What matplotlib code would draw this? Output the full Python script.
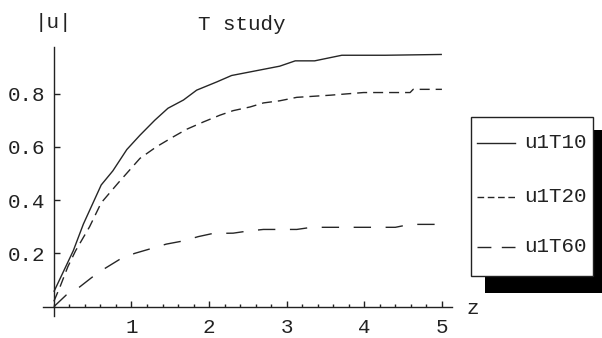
import matplotlib
matplotlib.use("Agg")
import matplotlib.pyplot as plt
from matplotlib.patches import Rectangle
from matplotlib.lines import Line2D
from matplotlib.ticker import MultipleLocator, FixedLocator

plt.rcParams['lines.scale_dashes'] = False
FONT = 'Liberation Mono'
FS = 15

# ---- data ----
x_T10 = [0, 0.25, 0.38, 0.61, 0.76, 0.94, 1.11, 1.30, 1.47, 1.67, 1.84, 2.10, 2.29, 2.91, 3.11, 3.36, 3.71, 4.27, 5.0]
u_T10 = [0.056, 0.21, 0.31, 0.457, 0.51, 0.59, 0.644, 0.70, 0.745, 0.776, 0.813, 0.844, 0.868, 0.903, 0.923, 0.923, 0.944, 0.944, 0.947]

x_T20 = [0, 0.08, 0.18, 0.28, 0.46, 0.61, 0.83, 1.11, 1.32, 1.54, 1.71, 1.93, 2.14, 2.31, 2.53, 2.70, 2.91, 3.13, 3.56, 3.99, 4.59, 4.63, 5.0]
u_T20 = [0.02, 0.075, 0.15, 0.21, 0.30, 0.39, 0.465, 0.557, 0.60, 0.638, 0.666, 0.694, 0.719, 0.736, 0.75, 0.765, 0.773, 0.786, 0.794, 0.804, 0.804, 0.816, 0.816]

x_T60 = [0, 0.16, 0.31, 0.49, 0.66, 0.85, 1.04, 1.24, 1.45, 1.67, 1.86, 2.05, 2.31, 2.50, 2.70, 3.13, 3.32, 4.18, 4.40, 4.59, 5.0]
u_T60 = [0, 0.044, 0.069, 0.11, 0.144, 0.178, 0.20, 0.217, 0.235, 0.247, 0.263, 0.275, 0.276, 0.284, 0.29, 0.29, 0.298, 0.298, 0.298, 0.309, 0.309]

labels = ['u1T10', 'u1T20', 'u1T60']
x_ticks = [1, 2, 3, 4, 5]
y_ticks = [0.2, 0.4, 0.6, 0.8]

W, H = 602, 338
fig = plt.figure(figsize=(W / 100, H / 100), dpi=100)

# axes placement in pixels
xmin, xmax = -0.14, 5.13
ymin, ymax = -0.035, 0.975
left_px, right_px = 43, 452
top_px, bot_px = 47, 316
ax = fig.add_axes([left_px / W, (H - bot_px) / H, (right_px - left_px) / W, (bot_px - top_px) / H])
ax.set_xlim(xmin, xmax)
ax.set_ylim(ymin, ymax)
ax.patch.set_alpha(0)

col = '#262626'
lw = 1.0
ax.plot(x_T10, u_T10, color=col, lw=lw, solid_capstyle='butt')
ax.plot(x_T20, u_T20, color=col, lw=lw, dashes=(7.2, 4.3), dash_capstyle='butt')
ax.plot(x_T60, u_T60, color=col, lw=lw, dashes=(12.5, 10.5), dash_capstyle='butt')

for s in ['top', 'right']:
    ax.spines[s].set_visible(False)
ax.spines['left'].set_position(('data', 0))
ax.spines['bottom'].set_position(('data', 0))
for s in ['left', 'bottom']:
    ax.spines[s].set_color('#222222')
    ax.spines[s].set_linewidth(1.0)

ax.xaxis.set_major_locator(FixedLocator(x_ticks))
ax.xaxis.set_minor_locator(MultipleLocator(0.2))
ax.yaxis.set_major_locator(FixedLocator(y_ticks))
ax.set_xticklabels([str(t) for t in x_ticks])
ax.set_yticklabels([f'{t:.1f}' for t in y_ticks])
ax.tick_params(axis='x', which='major', direction='in', length=4, width=1, pad=8, color='#222222')
ax.tick_params(axis='x', which='minor', direction='in', length=2, width=1, color='#222222')
ax.tick_params(axis='y', which='major', direction='in', length=4, width=1, pad=6, color='#222222')
for lab in ax.get_xticklabels() + ax.get_yticklabels():
    lab.set_fontfamily(FONT)
    lab.set_fontsize(FS)
    lab.set_color('#222222')

# overlay axes in pixel coordinates for free texts and legend
ov = fig.add_axes([0, 0, 1, 1])
ov.set_xlim(0, W)
ov.set_ylim(H, 0)
ov.axis('off')
ov.patch.set_alpha(0)

ov.text(53, 23, '|u|', family=FONT, fontsize=FS, ha='center', va='center', color='#222222')
ov.text(242, 25, 'T study', family=FONT, fontsize=FS, ha='center', va='center', color='#222222')
ov.text(473, 309, 'z', family=FONT, fontsize=FS, ha='center', va='center', color='#222222')

# legend with shadow
ov.add_patch(Rectangle((485, 130), 130, 163, facecolor='black', edgecolor='none'))
ov.add_patch(Rectangle((471, 117), 122, 159, facecolor='white', edgecolor='#222222', lw=1.0))
leg_y = [143, 197, 247]
leg_dash = [None, (4.8, 2.6), (10, 7.5)]
for yy, lab, d in zip(leg_y, labels, leg_dash):
    ln = Line2D([477, 515], [yy, yy], color=col, lw=lw)
    if d is not None:
        ln.set_dashes(d)
        ln.set_dash_capstyle('butt')
    ov.add_line(ln)
    ov.text(524, yy, lab, family=FONT, fontsize=FS, ha='left', va='center', color='#222222')

fig.savefig('out.png', dpi=100)
